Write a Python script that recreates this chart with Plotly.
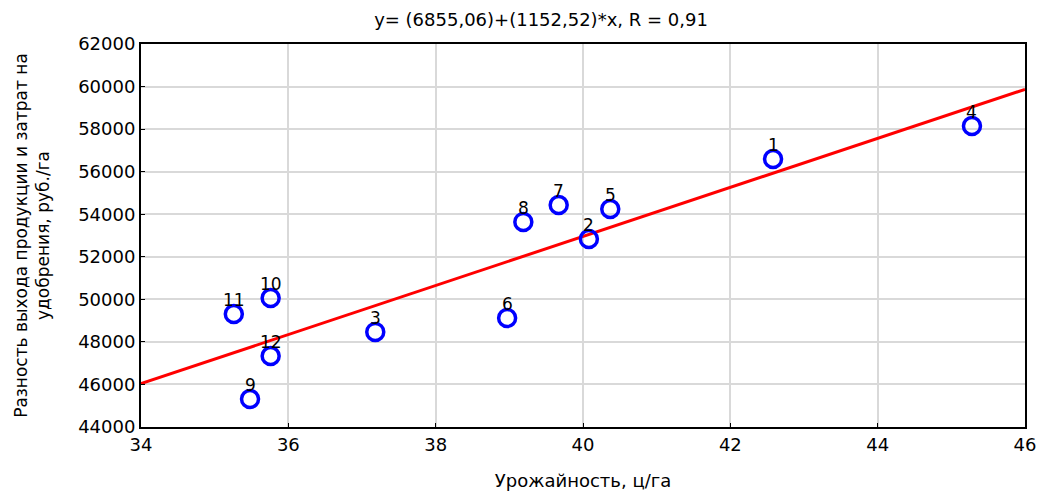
import plotly.graph_objects as go

labels = ["1", "2", "3", "4", "5", "6", "7", "8", "9", "10", "11", "12"]
yield_x = [42.58, 40.08, 37.18, 45.28, 40.37, 38.97, 39.67, 39.19, 35.48, 35.76, 35.26, 35.76]
diff_y = [56600, 52840, 48470, 58150, 54250, 49120, 54430, 53640, 45320, 50060, 49310, 47340]
intercept = 6855.06
slope = 1152.52
x_range = [34, 46]
title_text = "y= (6855,06)+(1152,52)*x, R = 0,91"

FONT = "DejaVu Sans, Verdana, sans-serif"

fig = go.Figure()
line_y = [intercept + slope * v for v in x_range]
fig.add_trace(go.Scatter(x=x_range, y=line_y, mode="lines",
                         line=dict(color="#ff0000", width=3), showlegend=False))
fig.add_trace(go.Scatter(x=yield_x, y=diff_y, mode="markers",
                         marker=dict(symbol="circle-open", size=17, color="#0000ff",
                                     line=dict(width=3.5, color="#0000ff")),
                         showlegend=False))
for lab, xv, yv in zip(labels, yield_x, diff_y):
    fig.add_annotation(x=xv, y=yv, text=lab, showarrow=False, yshift=14,
                       font=dict(family=FONT, size=17, color="black"))

fig.update_layout(
    width=1037, height=491,
    margin=dict(l=141, r=12, t=44, b=64, autoexpand=False),
    paper_bgcolor="white", plot_bgcolor="white",
    font=dict(family=FONT, size=18, color="black"),
    title=dict(text=title_text, x=541 / 1037, xanchor="center", y=1 - 20 / 491,
               yanchor="middle", font=dict(family=FONT, size=18, color="black")),
)
fig.update_xaxes(range=x_range, dtick=2, showgrid=True, gridcolor="#d9d9d9", gridwidth=1.5,
                 showline=True, linecolor="black", linewidth=2, mirror=True,
                 ticks="inside", ticklen=4, tickcolor="black", zeroline=False,
                 automargin=False,
                 title=dict(text="Урожайность, ц/га", font=dict(family=FONT, size=18), standoff=23),
                 tickfont=dict(family=FONT, size=18))
fig.update_yaxes(range=[44000, 62000], dtick=2000, showgrid=True, gridcolor="#d9d9d9", gridwidth=1.5,
                 showline=True, linecolor="black", linewidth=2, mirror=True,
                 ticks="inside", ticklen=4, tickcolor="black", zeroline=False,
                 tickformat="d", automargin=False,
                 title=dict(text="Разность выхода продукции и затрат на<br>удобрения, руб./га",
                            font=dict(family=FONT, size=17), standoff=24),
                 tickfont=dict(family=FONT, size=18))

fig.write_html("out.html", config={"displayModeBar": False},
               post_script="document.body.style.margin='0';document.body.style.overflow='hidden';")
